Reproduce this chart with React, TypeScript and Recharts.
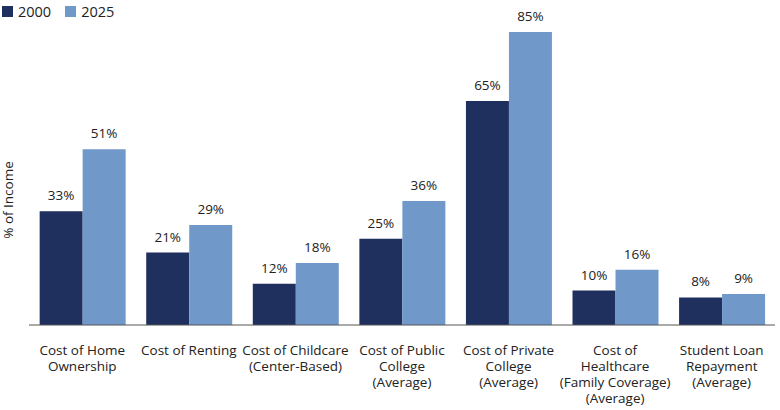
import React from 'react';
import { BarChart, Bar, XAxis, YAxis, LabelList } from 'recharts';

const categories = [
  ['Cost of Home', 'Ownership'],
  ['Cost of Renting'],
  ['Cost of Childcare', '(Center-Based)'],
  ['Cost of Public', 'College', '(Average)'],
  ['Cost of Private', 'College', '(Average)'],
  ['Cost of', 'Healthcare', '(Family Coverage)', '(Average)'],
  ['Student Loan', 'Repayment', '(Average)'],
];
const values2000 = [33, 21, 12, 25, 65, 10, 8];
const values2025 = [51, 29, 18, 36, 85, 16, 9];

const data = categories.map((c, i) => ({
  name: c.join('\n'),
  y2000: values2000[i],
  y2025: values2025[i],
}));

const FONT = '"Open Sans", sans-serif';

const CategoryTick = (props: any) => {
  const { x, y, payload } = props;
  const lines = String(payload.value).split('\n');
  return (
    <g>
      {lines.map((l, i) => (
        <text key={i} x={x} y={y + 22 + i * 16} textAnchor="middle" fill="#222" fontSize={13.5} fontFamily={FONT}>
          {l}
        </text>
      ))}
    </g>
  );
};

const App = () => {
  return (
    <div style={{ position: 'absolute', left: 0, top: 0, width: 780, height: 410, background: '#fff' }}>
      <div
        style={{
          position: 'absolute',
          left: 2,
          top: 2,
          display: 'flex',
          alignItems: 'center',
          fontFamily: FONT,
          fontSize: 14.5,
          color: '#222',
          zIndex: 1,
        }}
      >
        <span style={{ width: 11, height: 11, background: '#1f2f5e', display: 'inline-block', marginRight: 5 }} />
        <span style={{ marginRight: 14 }}>2000</span>
        <span style={{ width: 11, height: 11, background: '#7099ca', display: 'inline-block', marginRight: 5 }} />
        <span>2025</span>
      </div>
      <div
        style={{
          position: 'absolute',
          left: 8,
          top: 200,
          transform: 'translate(-50%, -50%) rotate(-90deg)',
          fontFamily: FONT,
          fontSize: 13.5,
          color: '#222',
          whiteSpace: 'nowrap',
          zIndex: 1,
        }}
      >
        % of Income
      </div>
      <BarChart
        width={780}
        height={410}
        data={data}
        margin={{ top: 32, right: 5, left: 29, bottom: 5 }}
        barCategoryGap="10%"
        barGap={0}
      >
        <XAxis
          dataKey="name"
          interval={0}
          tickLine={false}
          axisLine={{ stroke: '#555' }}
          height={80}
          tick={<CategoryTick />}
        />
        <YAxis hide domain={[0, 85]} />
        <Bar dataKey="y2000" fill="#1f2f5e" isAnimationActive={false}>
          <LabelList dataKey="y2000" position="top" offset={11} formatter={(v: any) => `${v}%`} fill="#222" fontSize={13.5} fontFamily={FONT} />
        </Bar>
        <Bar dataKey="y2025" fill="#7099ca" isAnimationActive={false}>
          <LabelList dataKey="y2025" position="top" offset={11} formatter={(v: any) => `${v}%`} fill="#222" fontSize={13.5} fontFamily={FONT} />
        </Bar>
      </BarChart>
    </div>
  );
};

export default App;
